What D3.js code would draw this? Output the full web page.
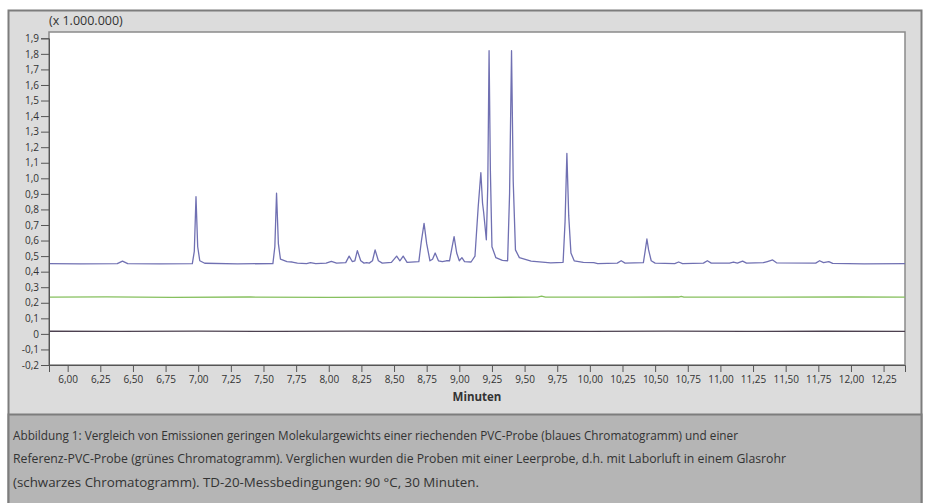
<!DOCTYPE html>
<html>
<head>
<meta charset="utf-8">
<script src="https://cdn.jsdelivr.net/npm/d3@7"></script>
<style>
  body { margin: 0; background: #fff; }
  svg { display: block; }
  .tick text { font-family: "Open Sans", sans-serif; font-size: 10px; fill: #333; }
</style>
</head>
<body>
<svg width="926" height="503"></svg>
<script>
// blaues Chromatogramm: [Minuten, Intensität x 1.000.000]
const blueTrace = [
  [5.857,0.452],[6.10,0.450],[6.38,0.452],[6.42,0.468],[6.46,0.452],[6.70,0.450],
  [6.955,0.452],[6.970,0.53],[6.983,0.882],[6.996,0.56],[7.012,0.47],[7.05,0.454],
  [7.30,0.450],[7.572,0.452],[7.587,0.56],[7.600,0.904],[7.614,0.58],[7.63,0.48],
  [7.68,0.465],[7.72,0.462],[7.76,0.455],[7.83,0.452],[7.86,0.458],[7.90,0.452],
  [7.98,0.455],[8.02,0.466],[8.06,0.455],[8.13,0.458],[8.156,0.50],[8.18,0.465],
  [8.20,0.47],[8.219,0.535],[8.245,0.47],[8.27,0.455],[8.29,0.458],[8.31,0.455],
  [8.335,0.47],[8.355,0.54],[8.38,0.47],[8.41,0.455],[8.48,0.46],[8.52,0.50],
  [8.545,0.47],[8.57,0.50],[8.60,0.46],[8.69,0.465],[8.71,0.60],[8.73,0.71],
  [8.75,0.58],[8.775,0.47],[8.795,0.48],[8.815,0.52],[8.84,0.47],[8.87,0.465],
  [8.90,0.47],[8.925,0.47],[8.945,0.56],[8.96,0.625],[8.98,0.52],[9.00,0.47],
  [9.02,0.49],[9.04,0.465],[9.09,0.462],[9.12,0.50],[9.145,0.82],[9.165,1.036],
  [9.178,0.84],[9.186,0.785],[9.196,0.70],[9.207,0.605],[9.218,0.95],[9.228,1.82],
  [9.238,1.05],[9.25,0.56],[9.28,0.49],[9.33,0.472],[9.37,0.47],[9.385,0.90],
  [9.400,1.82],[9.413,0.98],[9.43,0.54],[9.46,0.49],[9.55,0.468],[9.70,0.456],
  [9.795,0.46],[9.810,0.72],[9.824,1.16],[9.838,0.76],[9.855,0.52],[9.88,0.47],
  [9.95,0.46],[10.03,0.458],[10.06,0.452],[10.21,0.455],[10.24,0.47],[10.27,0.455],
  [10.41,0.458],[10.425,0.54],[10.437,0.61],[10.45,0.54],[10.47,0.47],[10.50,0.455],
  [10.65,0.452],[10.68,0.462],[10.71,0.452],[10.87,0.455],[10.90,0.47],[10.93,0.455],
  [11.07,0.455],[11.10,0.462],[11.13,0.455],[11.17,0.468],[11.20,0.455],[11.33,0.458],
  [11.36,0.465],[11.40,0.475],[11.43,0.457],[11.73,0.455],[11.76,0.47],[11.79,0.458],
  [11.83,0.465],[11.86,0.453],[12.10,0.450],[12.414,0.451]
];
// grünes Chromatogramm (Referenz-PVC-Probe)
const greenTrace = [
  [5.857,0.236],[6.30,0.238],[6.80,0.235],[7.40,0.237],[8.00,0.235],[8.60,0.236],
  [9.20,0.235],[9.60,0.236],[9.63,0.243],[9.66,0.236],[10.30,0.236],[10.68,0.237],
  [10.70,0.241],[10.72,0.236],[11.40,0.236],[12.00,0.237],[12.414,0.236]
];
// schwarzes Chromatogramm (Leerprobe)
const blackTrace = [
  [5.857,0.017],[6.40,0.016],[7.00,0.018],[7.60,0.016],[8.20,0.018],[8.80,0.016],
  [9.40,0.017],[10.00,0.016],[10.60,0.018],[11.20,0.016],[11.80,0.017],[12.414,0.016]
];
const series = [
  {name: 'schwarz', color: '#4d4150', values: blackTrace},
  {name: 'grün', color: '#86c05e', values: greenTrace},
  {name: 'blau', color: '#7070b2', values: blueTrace}
];
const yTicks = [-0.2,-0.1,0,0.1,0.2,0.3,0.4,0.5,0.6,0.7,0.8,0.9,1.0,1.1,1.2,1.3,1.4,1.5,1.6,1.7,1.8,1.9];
const xTicks = [6.00,6.25,6.50,6.75,7.00,7.25,7.50,7.75,8.00,8.25,8.50,8.75,9.00,9.25,9.50,9.75,10.00,10.25,10.50,10.75,11.00,11.25,11.50,11.75,12.00,12.25];
const captionLines = [
  'Abbildung 1: Vergleich von Emissionen geringen Molekulargewichts einer riechenden PVC-Probe (blaues Chromatogramm) und einer',
  'Referenz-PVC-Probe (grünes Chromatogramm). Verglichen wurden die Proben mit einer Leerprobe, d.h. mit Laborluft in einem Glasrohr',
  '(schwarzes Chromatogramm). TD-20-Messbedingungen: 90 °C, 30 Minuten.'
];
const captionWidths = [725, 773, 466];

const svg = d3.select('svg');
const de = d3.formatLocale({decimal: ',', thousands: '.', grouping: [3], currency: ['', ' €'], minus: '-'});

// Rahmen
svg.append('rect').attr('x', 8.5).attr('y', 10.5).attr('width', 913).attr('height', 500)
  .attr('fill', '#dcdcdc').attr('stroke', '#7d7d7d').attr('stroke-width', 2);
svg.append('rect').attr('x', 8.5).attr('y', 414.5).attr('width', 913).attr('height', 100)
  .attr('fill', '#b5b5b5').attr('stroke', '#7d7d7d').attr('stroke-width', 2);

const plot = {left: 49, right: 905, top: 32, bottom: 365};

const x = d3.scaleLinear().domain([5.857, 12.414]).range([plot.left, plot.right]);
const y = d3.scaleLinear().domain([-0.2, 1.9]).range([365, 38.3]);

svg.append('rect').attr('x', plot.left).attr('y', plot.top)
  .attr('width', plot.right - plot.left).attr('height', plot.bottom - plot.top)
  .attr('fill', '#fff').attr('stroke', '#8a8a8a').attr('stroke-width', 1.5);

svg.append('clipPath').attr('id', 'clip').append('rect')
  .attr('x', plot.left).attr('y', plot.top)
  .attr('width', plot.right - plot.left).attr('height', plot.bottom - plot.top);

const line = d3.line().x(d => x(d[0])).y(d => y(d[1]));

svg.append('g').attr('clip-path', 'url(#clip)')
  .selectAll('path').data(series).enter().append('path')
    .attr('d', d => line(d.values))
    .attr('fill', 'none')
    .attr('stroke', d => d.color)
    .attr('stroke-width', 1.3)
    .attr('stroke-linejoin', 'round');

// Achsen
const yAxis = d3.axisLeft(y).tickValues(yTicks).tickSize(8).tickPadding(2)
  .tickFormat(d => Math.abs(d) < 1e-9 ? '0' : de.format('.1f')(d));
svg.append('g').attr('transform', `translate(${plot.left},0)`).call(yAxis)
  .call(g => g.select('.domain').attr('stroke', '#555'))
  .call(g => g.selectAll('.tick line').attr('stroke', '#555'));

const xAxis = d3.axisBottom(x).tickValues(xTicks).tickSize(7).tickPadding(4)
  .tickFormat(de.format('.2f'));
svg.append('g').attr('transform', `translate(0,${plot.bottom})`).call(xAxis)
  .call(g => g.select('.domain').attr('stroke', '#555'))
  .call(g => g.selectAll('.tick line').attr('stroke', '#555'));

svg.append('text').attr('x', 477).attr('y', 401).attr('text-anchor', 'middle')
  .attr('font-family', '"Open Sans", sans-serif').attr('font-size', 11.5).attr('font-weight', 'bold')
  .attr('fill', '#333').text('Minuten');

svg.append('text').attr('x', 49).attr('y', 25)
  .attr('font-family', '"Open Sans", sans-serif').attr('font-size', 12.5)
  .attr('fill', '#333').text('(x 1.000.000)');

// Bildunterschrift
svg.append('g').selectAll('text').data(captionLines).enter().append('text')
  .attr('x', 13).attr('y', (d, i) => 439.5 + i * 23.5)
  .attr('font-family', '"Liberation Sans Narrow", "Open Sans", sans-serif')
  .attr('font-size', 13.5).attr('fill', '#333')
  .attr('textLength', (d, i) => captionWidths[i]).attr('lengthAdjust', 'spacingAndGlyphs')
  .text(d => d);
</script>
</body>
</html>
